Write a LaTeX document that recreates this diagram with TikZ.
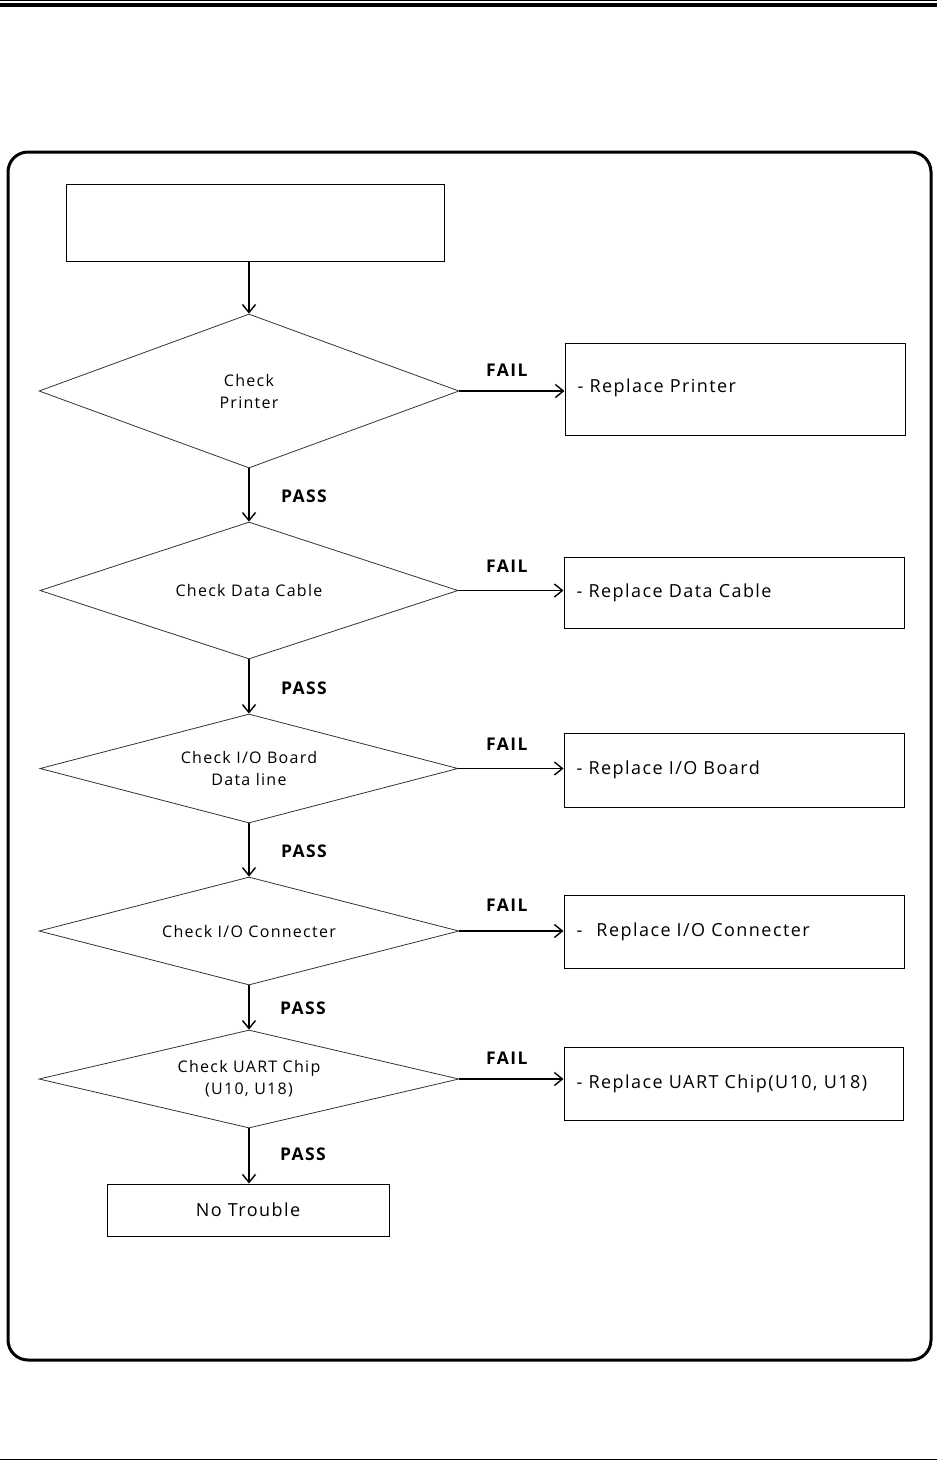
\documentclass[tikz,border=0pt]{standalone}
\usepackage{fontspec}
\setmainfont{Open Sans}[LetterSpace=8]
\usetikzlibrary{shapes.geometric,arrows.meta,shadows}
\begin{document}
\begin{tikzpicture}[x=1pt,y=-1pt,
  dia/.style={diamond,aspect=5,draw=black!80,line width=0.8pt,inner sep=0pt,align=center,font=\fontsize{16}{22}\selectfont},
  box/.style={draw=black,line width=1pt,fill=white,inner sep=0pt,
     drop shadow={shadow xshift=1.2pt,shadow yshift=-1.2pt,opacity=1,fill=black}},
  rtext/.style={anchor=west,font=\fontsize{18}{20}\selectfont,inner sep=0pt},
  lbl/.style={anchor=west,font=\bfseries\fontsize{17.5}{18}\selectfont,inner sep=0pt},
  arr/.style={line width=1.4pt,-{Straight Barb[length=8pt,width=13pt,line width=1.4pt]}}
]
\useasboundingbox (0,0) rectangle (937,1460);
% header / footer rules
\fill (0,0) rectangle (937,1.2);
\fill (0,2.6) rectangle (937,6.8);
\fill (0,1458.8) rectangle (937,1460);
% frame
\draw[line width=3pt,rounded corners=20pt] (8,152) rectangle (931,1360);

% top box
\node[box,minimum width=378pt,minimum height=77pt] (top) at (255,222.5) {};

% diamonds
\node[dia,minimum width=420pt,minimum height=154pt] (d1) at (249,391) {Check\\Printer};
\node[dia,minimum width=418pt,minimum height=137pt] (d2) at (249,590.5) {Check Data Cable};
\node[dia,minimum width=418pt,minimum height=109pt] (d3) at (249,768.5) {Check I/O Board\\Data line};
\node[dia,minimum width=420pt,minimum height=108pt] (d4) at (249,931) {Check I/O Connecter};
\node[dia,minimum width=420pt,minimum height=98pt] (d5) at (249,1079) {Check UART Chip\\(U10, U18)};

% right boxes
\node[box,minimum width=340pt,minimum height=92pt] (b1) at (735,389) {};
\node[box,minimum width=340pt,minimum height=71pt] (b2) at (734,592.5) {};
\node[box,minimum width=340pt,minimum height=74pt] (b3) at (734,770) {};
\node[box,minimum width=340pt,minimum height=73pt] (b4) at (734,931.5) {};
\node[box,minimum width=339pt,minimum height=73pt] (b5) at (733.5,1083.5) {};

\node[rtext] (t1) at ([xshift=13pt,yshift=1pt]b1.west) {- Replace Printer};
\node[rtext] (t2) at ([xshift=13pt]b2.west) {- Replace Data Cable};
\node[rtext] (t3) at ([xshift=13pt]b3.west) {- Replace I/O Board};
\node[rtext] (t4) at ([xshift=13pt]b4.west) {-\hspace{14pt}Replace I/O Connecter};
\node[rtext] (t5) at ([xshift=13pt]b5.west) {- Replace UART Chip(U10, U18)};

% no trouble
\node[box,minimum width=282pt,minimum height=52pt,font=\fontsize{18}{20}\selectfont] (nt) at (248,1210) {No Trouble};

% vertical arrows
\draw[arr] (d1.north |- top.south) -- (d1.north);
\draw[arr] (d1.south) -- (d2.north);
\draw[arr] (d2.south) -- (d3.north);
\draw[arr] (d3.south) -- (d4.north);
\draw[arr] (d4.south) -- (d5.north);
\draw[arr] (d5.south) -- (d5.south |- nt.north);

% horizontal arrows
\draw[arr] (d1.east) -- (d1.east -| b1.west);
\draw[arr] (d2.east) -- (d2.east -| b2.west);
\draw[arr] (d3.east) -- (d3.east -| b3.west);
\draw[arr] (d4.east) -- (d4.east -| b4.west);
\draw[arr] (d5.east) -- (d5.east -| b5.west);

% labels
\node[lbl] (p1) at (281,496) {PASS};
\node[lbl] (p2) at (281,688) {PASS};
\node[lbl] (p3) at (281,851) {PASS};
\node[lbl] (p4) at (280,1008) {PASS};
\node[lbl] (p5) at (280,1154) {PASS};
\node[lbl] (f1) at (486,370) {FAIL};
\node[lbl] (f2) at (486,566) {FAIL};
\node[lbl] (f3) at (486,744) {FAIL};
\node[lbl] (f4) at (486,905) {FAIL};
\node[lbl] (f5) at (486,1058) {FAIL};
\end{tikzpicture}
\end{document}
